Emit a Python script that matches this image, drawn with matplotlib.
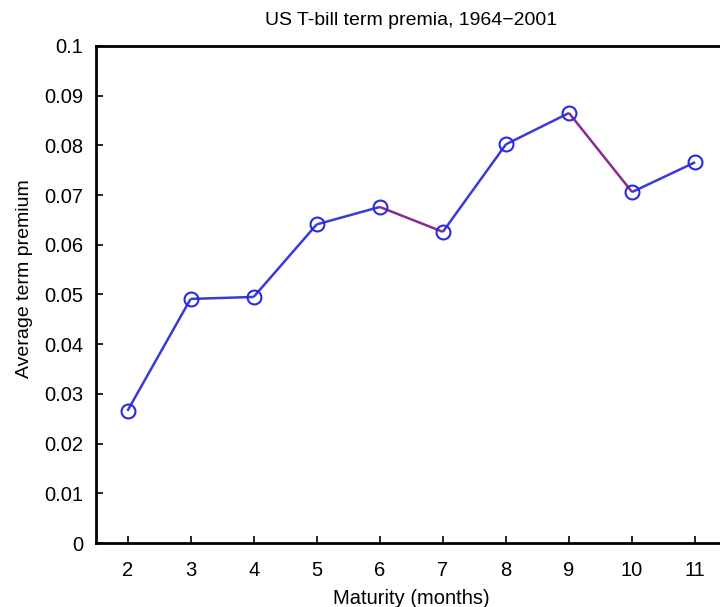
import numpy as np
import matplotlib.pyplot as plt
from matplotlib.collections import LineCollection

plt.rcParams['font.family'] = ['Liberation Sans', 'DejaVu Sans']

# Average term premium by maturity
maturity = [2, 3, 4, 5, 6, 7, 8, 9, 10, 11]
premium = [0.0266, 0.0491, 0.0495, 0.0641, 0.0676, 0.0626, 0.0802, 0.0865, 0.0706, 0.0766]
ytick_labels = ['0', '0.01', '0.02', '0.03', '0.04', '0.05', '0.06',
                '0.07', '0.08', '0.09', '0.1']

fig = plt.figure(figsize=(7.2, 6.07), dpi=100)
ax = fig.add_axes([0.1333, 0.1054, 0.876, 0.819])

# falling segments are drawn in a purplish red, rising ones in blue
pts = np.column_stack([maturity, premium])
segs = np.stack([pts[:-1], pts[1:]], axis=1)
cols = ['#8a2a90' if d < 0 else '#3a3ad8' for d in np.diff(premium)]
ax.add_collection(LineCollection(segs, colors=cols, linewidths=1.8))
ax.plot(maturity, premium, linestyle='none', marker='o', markersize=10,
        markerfacecolor='none', markeredgecolor='#2a2ae0', markeredgewidth=1.5)

ax.set_xlim(1.5, 11.5)
ax.set_ylim(0, 0.1)
ax.set_xticks(maturity)
ax.set_yticks(np.linspace(0, 0.1, 11))
ax.set_yticklabels(ytick_labels)
ax.tick_params(direction='in', length=5, width=1.2, labelsize=14.5)
ax.tick_params(axis='x', pad=13)
ax.tick_params(axis='y', pad=9)
for s in ax.spines.values():
    s.set_linewidth(2)

ax.set_title('US T-bill term premia, 1964\u22122001', fontsize=14, pad=15)
ax.set_xlabel('Maturity (months)', fontsize=14.5)
ax.set_ylabel('Average term premium', fontsize=14)
ax.xaxis.set_label_coords(0.5, -0.092)
ax.yaxis.set_label_coords(-0.1, 0.532)

fig.savefig('out.png', dpi=100)
